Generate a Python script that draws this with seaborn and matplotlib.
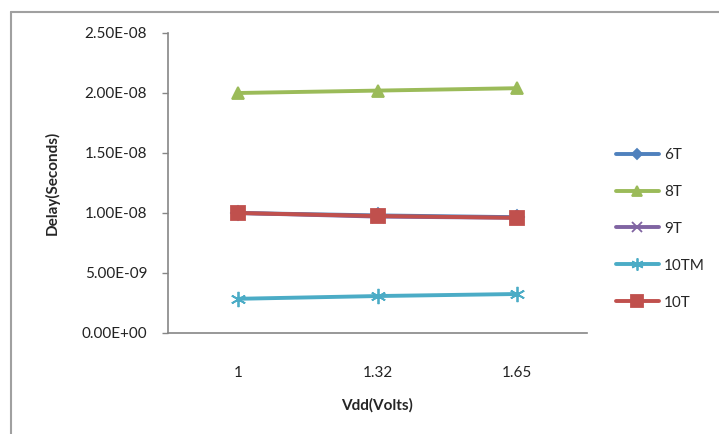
import pandas as pd
import matplotlib.pyplot as plt
import seaborn as sns
from matplotlib.lines import Line2D
from matplotlib.ticker import FuncFormatter

sns.set_style("white")
plt.rcParams['font.family'] = ['Lato', 'DejaVu Sans']

vdd = ['1', '1.32', '1.65']
delay_6t = [1.00e-8, 9.80e-9, 9.65e-9]
delay_8t = [2.00e-8, 2.02e-8, 2.04e-8]
delay_9t = [1.00e-8, 9.70e-9, 9.60e-9]
delay_10tm = [2.85e-9, 3.08e-9, 3.25e-9]
delay_10t = [1.00e-8, 9.75e-9, 9.60e-9]

series = ['6T', '8T', '9T', '10TM', '10T']
values = [delay_6t, delay_8t, delay_9t, delay_10tm, delay_10t]
colors = ['#4F81BD', '#9BBB59', '#8064A2', '#4BACC6', '#C0504D']
markers = ['D', '^', 'x', (6, 2, 0), 's']
msizes = [7, 9, 9, 11, 10]

rows = []
for name, vals in zip(series, values):
    for v, d in zip(vdd, vals):
        rows.append({'Vdd': v, 'Delay': d, 'Cell': name})
df = pd.DataFrame(rows)

fig = plt.figure(figsize=(7.19, 4.34), dpi=100)
ax = fig.add_axes([168 / 719, 1 - 333 / 434, 419 / 719, 300 / 434])

for name, c, m, ms in zip(series, colors, markers, msizes):
    sub = df[df['Cell'] == name]
    sns.lineplot(data=sub, x='Vdd', y='Delay', ax=ax, color=c, marker=m,
                 markersize=ms, linewidth=2.8, markeredgecolor=c,
                 markeredgewidth=1.3, label=name, sort=False)

ax.set_xlim(-0.5, 2.5)
ax.set_ylim(0, 2.5e-8)
ax.set_yticks([0, 5e-9, 1e-8, 1.5e-8, 2e-8, 2.5e-8])
ax.yaxis.set_major_formatter(FuncFormatter(lambda v, p: '{:.2E}'.format(v)))

for s in ['top', 'right']:
    ax.spines[s].set_visible(False)
for s in ['left', 'bottom']:
    ax.spines[s].set_color('#868686')
    ax.spines[s].set_linewidth(1.2)

ax.tick_params(axis='y', direction='out', length=4, width=1, color='#868686',
               pad=11, labelsize=11, left=True, labelcolor='#222222')
ax.tick_params(axis='x', length=0, pad=24, labelsize=11, labelcolor='#222222')

ax.set_xlabel('Vdd(Volts)', fontsize=11, fontweight='bold', labelpad=13)
ax.set_ylabel('Delay(Seconds)', fontsize=11, fontweight='bold', labelpad=16)

ax.legend(loc='upper left', bbox_to_anchor=(616 / 719, 1 - 148 / 434),
          bbox_transform=fig.transFigure, frameon=False, fontsize=11,
          labelspacing=1.5, handlelength=2.8, handletextpad=0.35,
          borderpad=0, borderaxespad=0, markerscale=0.8)

# chart area border (top and left visible)
fig.add_artist(Line2D([11 / 719, 11 / 719], [0, 1 - 12 / 434],
                      transform=fig.transFigure, color='#a0a0a0', lw=1.5))
fig.add_artist(Line2D([11 / 719, 1], [1 - 12 / 434, 1 - 12 / 434],
                      transform=fig.transFigure, color='#a0a0a0', lw=1.5))

fig.savefig('out.png', dpi=100)
